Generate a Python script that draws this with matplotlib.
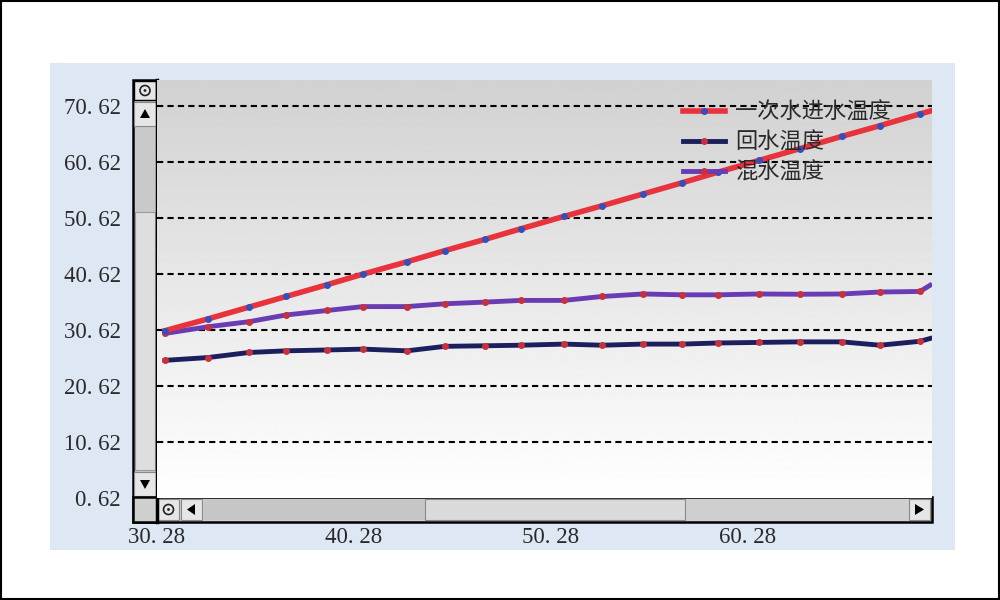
import numpy as np
import matplotlib.pyplot as plt
from matplotlib.patches import Rectangle, Circle, Polygon

plt.rcParams['font.family'] = ['Noto Sans CJK SC', 'DejaVu Sans']

# data
x = [30.69, 32.87, 34.95, 36.83, 38.91, 40.74, 42.97, 44.90, 46.93, 48.76,
     50.94, 52.87, 54.95, 56.93, 58.76, 60.84, 62.92, 65.05, 66.98, 69.01, 69.52]
supply = [30.5, 32.6, 34.7, 36.6, 38.7, 40.6, 42.8, 44.8, 46.8, 48.7,
          50.9, 52.8, 54.9, 56.9, 58.8, 60.9, 63.0, 65.2, 67.1, 69.2, 69.7]
back = [25.2, 25.7, 26.6, 26.9, 27.05, 27.2, 26.9, 27.7, 27.8, 27.9,
        28.1, 27.9, 28.1, 28.1, 28.3, 28.4, 28.5, 28.5, 27.9, 28.6, 29.1]
mixed = [30.0, 31.2, 32.1, 33.3, 34.1, 34.8, 34.8, 35.3, 35.6, 35.9,
         35.9, 36.6, 37.05, 36.9, 36.9, 37.05, 37.0, 37.05, 37.4, 37.5, 38.6]
names = ['一次水进水温度', '回水温度', '混水温度']
yticks = [0.62, 10.62, 20.62, 30.62, 40.62, 50.62, 60.62, 70.62]
ylabels = ['0. 62', '10. 62', '20. 62', '30. 62', '40. 62', '50. 62', '60. 62', '70. 62']
xticks = [30.28, 40.28, 50.28, 60.28]
xlabels = ['30. 28', '40. 28', '50. 28', '60. 28']

fig = plt.figure(figsize=(10, 6), dpi=100)

# background: frame, blue panel, scrollbars (pixel coords)
bg = fig.add_axes([0, 0, 1, 1], zorder=0)
bg.set_xlim(0, 1000)
bg.set_ylim(600, 0)
bg.axis('off')
bg.add_patch(Rectangle((1, 1), 998, 598, fill=False, ec='black', lw=1.5))
bg.add_patch(Rectangle((50, 63), 905, 487, fc='#dde8f4', ec='none'))

# vertical scrollbar
bg.add_patch(Rectangle((133, 80), 24, 442, fc='#c9c9c9', ec='black', lw=1.8))
bg.add_patch(Rectangle((135, 212), 20, 258, fc='#dedede', ec='#9a9a9a', lw=0.8))
bg.add_patch(Rectangle((134, 81), 22, 19, fc='#e6e6e6', ec='black', lw=1))
bg.add_patch(Circle((145, 90.5), 5, fc='none', ec='#222', lw=1.2))
bg.add_patch(Circle((145, 90.5), 1.4, fc='#222', ec='none'))
bg.add_patch(Rectangle((134, 102), 22, 24, fc='#e6e6e6', ec='#888', lw=0.8))
bg.add_patch(Polygon([[140, 118], [150, 118], [145, 109]], fc='black'))
bg.add_patch(Rectangle((134, 472), 22, 24, fc='#e6e6e6', ec='#888', lw=0.8))
bg.add_patch(Polygon([[140, 480], [150, 480], [145, 489]], fc='black'))

# horizontal scrollbar
bg.add_patch(Rectangle((133, 497), 799, 25, fc='#cfcfcf', ec='black', lw=1.8))
bg.add_patch(Rectangle((204, 499), 221, 21, fc='#c6c6c6', ec='none'))
bg.add_patch(Rectangle((425, 499), 260, 21, fc='#dadada', ec='#8a8a8a', lw=0.8))
bg.add_patch(Rectangle((158, 499), 21, 21, fc='#e6e6e6', ec='#888', lw=0.8))
bg.add_patch(Circle((168.5, 509.5), 5, fc='none', ec='#222', lw=1.2))
bg.add_patch(Circle((168.5, 509.5), 1.4, fc='#222', ec='none'))
bg.add_patch(Rectangle((181, 499), 21, 21, fc='#e6e6e6', ec='#888', lw=0.8))
bg.add_patch(Polygon([[195, 504], [195, 515], [187, 509.5]], fc='black'))
bg.add_patch(Rectangle((909, 499), 21, 21, fc='#e6e6e6', ec='#888', lw=0.8))
bg.add_patch(Polygon([[915, 504], [915, 515], [924, 509.5]], fc='black'))
bg.plot([157, 157], [80, 522], color='black', lw=2.5)

# main plot
ax = fig.add_axes([0.157, 0.17, 0.775, 0.6967], zorder=2)
xmin, xmax = 30.28, 69.62
ymin, ymax = 0.62, 75.26
grad = np.linspace(1.0, 0.82, 256).reshape(-1, 1)
ax.imshow(grad, cmap='gray', vmin=0, vmax=1, aspect='auto',
          extent=[xmin, xmax, ymin, ymax], origin='lower', zorder=0)

for yt in yticks[1:]:
    ax.axhline(yt, color='black', lw=1.5, ls=(0, (3, 2)), zorder=1)

ax.plot(x, supply, color='#e8323c', lw=4, marker='o', ms=4,
        mfc='#3050c0', mec='#3050c0', markevery=slice(0, 20), label=names[0], zorder=4)
ax.plot(x, back, color='#1c1f5e', lw=3.5, marker='o', ms=4,
        mfc='#c8303c', mec='#c8303c', markevery=slice(0, 20), label=names[1], zorder=3)
ax.plot(x, mixed, color='#6a3cb4', lw=3.5, marker='o', ms=4,
        mfc='#c8303c', mec='#c8303c', markevery=slice(0, 20), label=names[2], zorder=3)

ax.set_xlim(xmin, xmax)
ax.set_ylim(ymin, ymax)
ax.set_yticks(yticks)
ax.set_yticklabels(ylabels, family='Liberation Serif', fontsize=16.5, color='#2a2a2a')
ax.set_xticks(xticks)
ax.set_xticklabels(xlabels, family='Liberation Serif', fontsize=16.5, color='#2a2a2a')
ax.tick_params(axis='y', length=0, pad=26)
ax.tick_params(axis='x', length=0, pad=21)
for s in ax.spines.values():
    s.set_visible(False)

ax.legend(loc='upper left', bbox_to_anchor=(0.683, 1 - 101 / 600),
          bbox_transform=fig.transFigure, frameon=False, fontsize=16,
          handlelength=1.9, handletextpad=0.45, labelspacing=0.3,
          borderpad=0, borderaxespad=0, labelcolor='#2a2a2a', numpoints=1)

fig.savefig('out.png', dpi=100)
